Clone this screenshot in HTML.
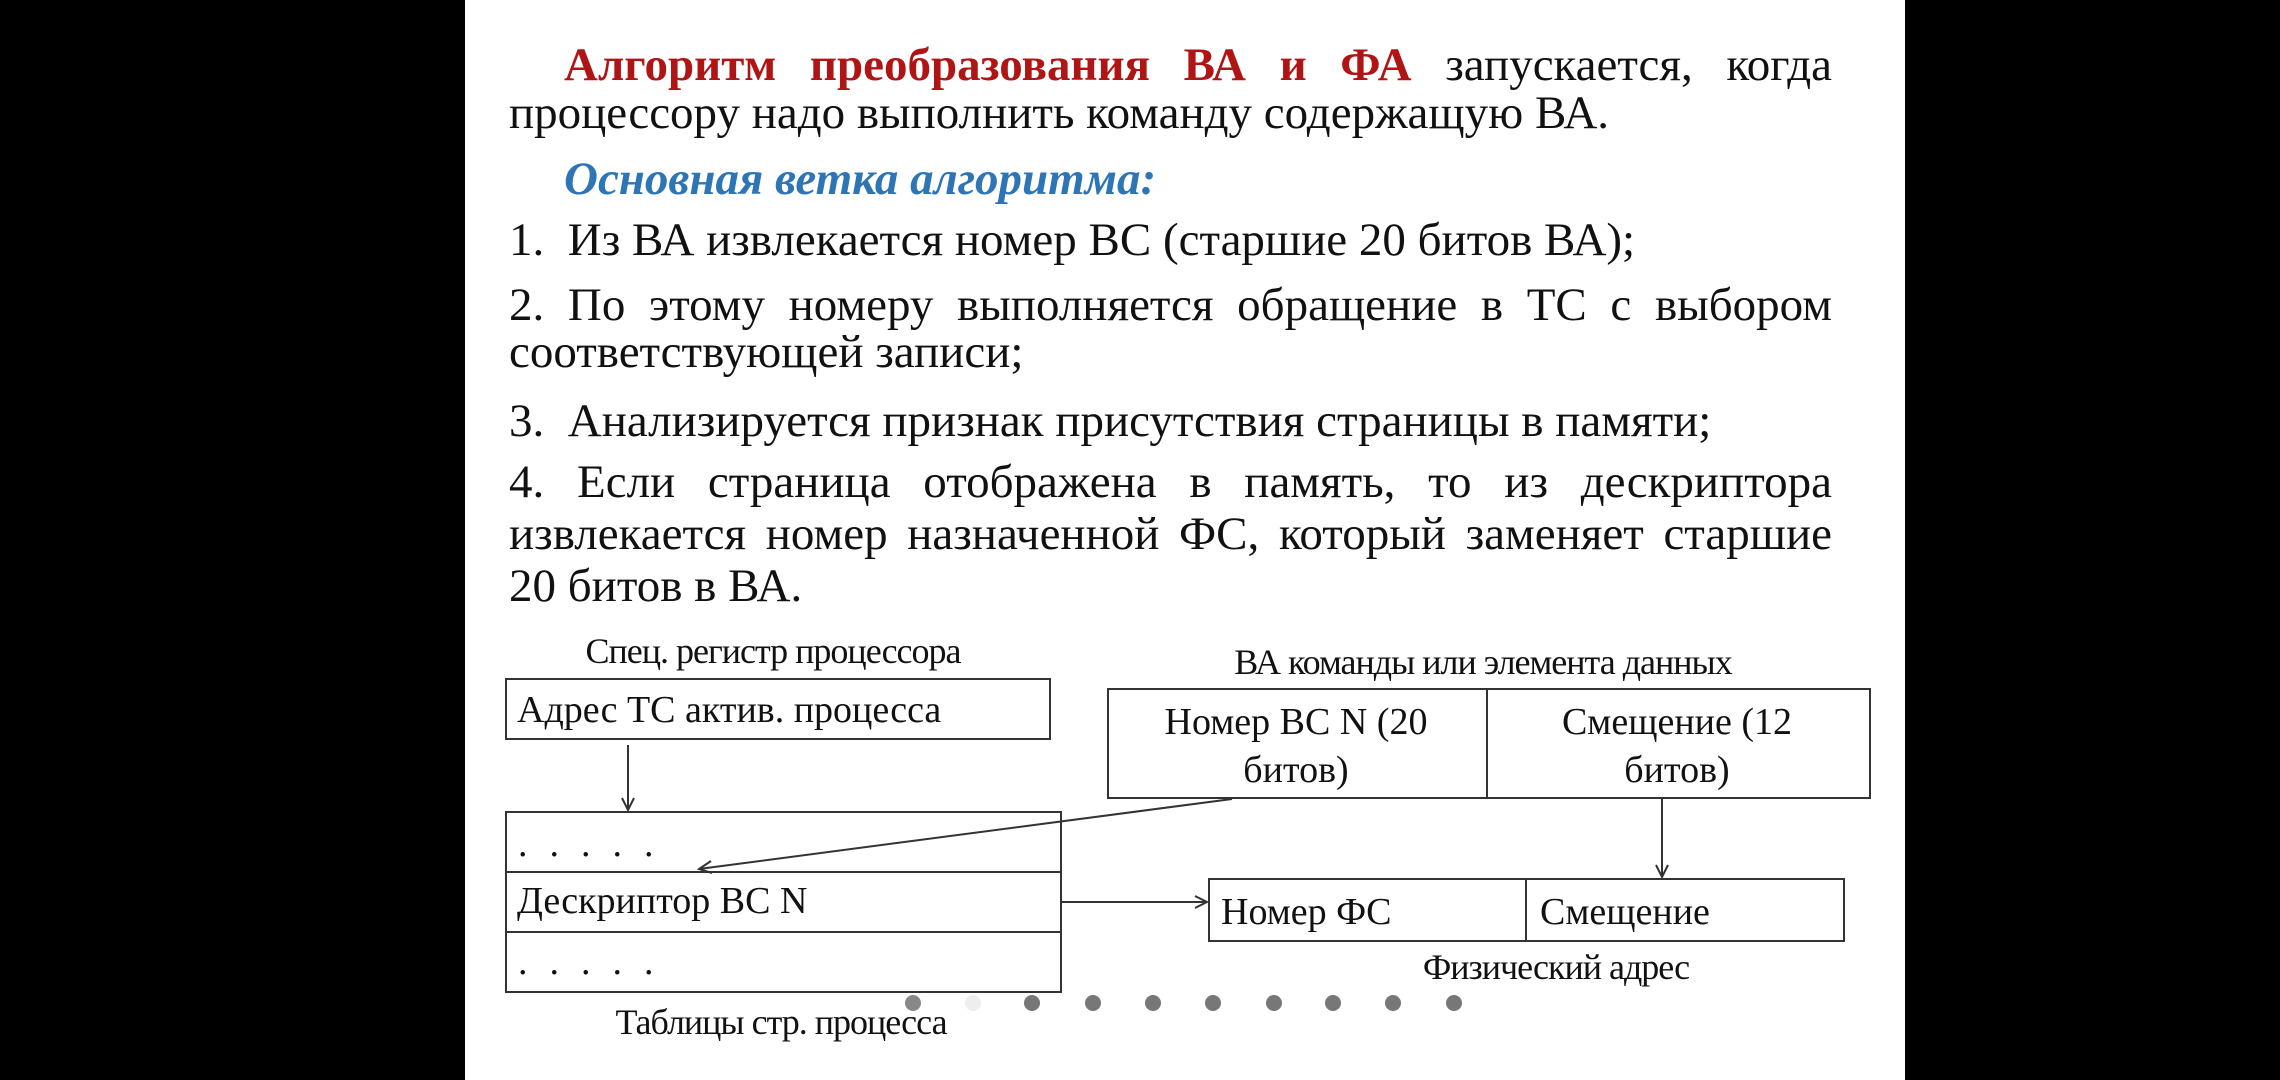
<!DOCTYPE html>
<html><head><meta charset="utf-8"><style>
body{margin:0;width:2280px;height:1080px;background:#000;position:relative;overflow:hidden}
.s{position:absolute;left:465px;top:0;width:1440px;height:1080px;background:#fff}
.t{position:absolute;font-family:"Liberation Serif",serif;font-size:47px;line-height:48px;color:#111;white-space:nowrap}
.j{text-align:justify;text-align-last:justify;white-space:normal}
.d{position:absolute;font-family:"Liberation Serif",serif;font-size:38px;line-height:44px;color:#111;white-space:nowrap}
.l{font-size:36px;letter-spacing:-1px}
.c{transform:translateX(-50%)}
.b{position:absolute;border:2px solid #333;box-sizing:border-box}
.dot{position:absolute;width:16px;height:16px;border-radius:50%;background:#777;top:995px}
.dots{letter-spacing:22px}
</style></head><body>
<div class="s"></div>
<div class="t j" style="left:564px;top:41px;width:1268px"><b style="color:#b01515">Алгоритм преобразования ВА и ФА</b> запускается, когда</div>
<div class="t" style="left:509px;top:89px">процессору надо выполнить команду содержащую ВА.</div>
<div class="t" style="left:564px;top:155px;color:#2e75b6;font-style:italic;font-weight:bold">Основная ветка алгоритма:</div>
<div class="t" style="left:509px;top:216px">1.&nbsp; Из ВА извлекается номер ВС (старшие 20 битов ВА);</div>
<div class="t j" style="left:509px;top:281px;width:1323px">2. По этому номеру выполняется обращение в ТС с выбором</div>
<div class="t" style="left:509px;top:328px">соответствующей записи;</div>
<div class="t" style="left:509px;top:397px">3.&nbsp; Анализируется признак присутствия страницы в памяти;</div>
<div class="t j" style="left:509px;top:458px;width:1323px">4. Если страница отображена в память, то из дескриптора</div>
<div class="t j" style="left:509px;top:510px;width:1323px">извлекается номер назначенной ФС, который заменяет старшие</div>
<div class="t" style="left:509px;top:562px">20 битов в ВА.</div>

<div class="d l c" style="left:773px;top:629px">Спец. регистр процессора</div>
<div class="b" style="left:505px;top:678px;width:546px;height:62px"></div>
<div class="d" style="left:517px;top:688px">Адрес ТС актив. процесса</div>

<div class="b" style="left:505px;top:811px;width:557px;height:182px"></div>
<div style="position:absolute;left:505px;top:871px;width:557px;height:2px;background:#333"></div>
<div style="position:absolute;left:505px;top:931px;width:557px;height:2px;background:#333"></div>
<div class="d dots" style="left:518px;top:822px">.....</div>
<div class="d" style="left:517px;top:879px">Дескриптор ВС N</div>
<div class="d dots" style="left:518px;top:940px">.....</div>
<div class="d l c" style="left:781px;top:1000px">Таблицы стр. процесса</div>

<div class="d l c" style="left:1483px;top:640px">ВА команды или элемента данных</div>
<div class="b" style="left:1107px;top:688px;width:764px;height:111px"></div>
<div style="position:absolute;left:1486px;top:688px;width:2px;height:111px;background:#333"></div>
<div class="d c" style="left:1296px;top:698px;text-align:center;line-height:48px">Номер ВС N (20<br>битов)</div>
<div class="d c" style="left:1677px;top:698px;text-align:center;line-height:48px">Смещение (12<br>битов)</div>

<div class="b" style="left:1208px;top:878px;width:637px;height:64px"></div>
<div style="position:absolute;left:1525px;top:878px;width:2px;height:64px;background:#333"></div>
<div class="d" style="left:1221px;top:890px">Номер ФС</div>
<div class="d" style="left:1540px;top:890px">Смещение</div>
<div class="d l c" style="left:1556px;top:945px">Физический адрес</div>

<svg style="position:absolute;left:0;top:0" width="2280" height="1080">
<g stroke="#333" stroke-width="2" fill="none">
<line x1="628" y1="745" x2="628" y2="810"/><polyline points="622,798 628,810 634,798"/>
<line x1="1232" y1="799" x2="699" y2="869"/><polyline points="711,861 699,869 712,873"/>
<line x1="1662" y1="799" x2="1662" y2="877"/><polyline points="1656,865 1662,877 1668,865"/>
<line x1="1062" y1="902" x2="1207" y2="902"/><polyline points="1195,896 1207,902 1195,908"/>
</g></svg>

<div class="dot" style="left:905px;background:#888"></div>
<div class="dot" style="left:965px;background:#eee"></div>
<div class="dot" style="left:1024px"></div>
<div class="dot" style="left:1085px"></div>
<div class="dot" style="left:1145px"></div>
<div class="dot" style="left:1205px"></div>
<div class="dot" style="left:1266px"></div>
<div class="dot" style="left:1325px"></div>
<div class="dot" style="left:1385px"></div>
<div class="dot" style="left:1446px"></div>
</body></html>
